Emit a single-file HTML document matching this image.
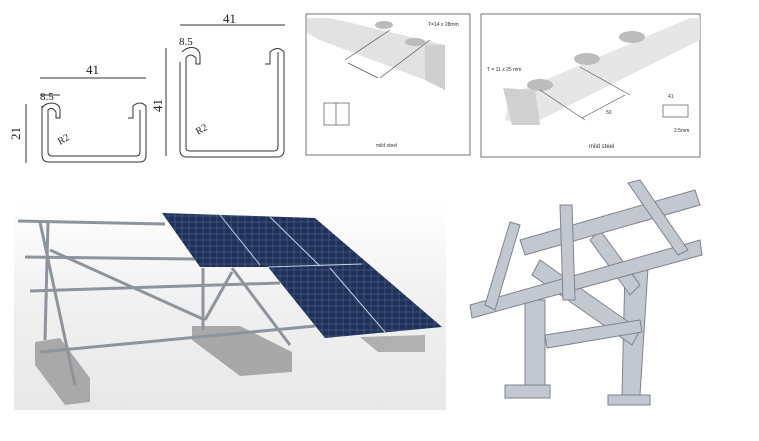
<!DOCTYPE html>
<html><head><meta charset="utf-8"><style>
body{margin:0;background:#fff;width:759px;height:436px;overflow:hidden;font-family:"Liberation Sans",sans-serif}
</style></head><body>
<svg width="759" height="436" viewBox="0 0 759 436" xmlns="http://www.w3.org/2000/svg">
<defs>
<linearGradient id="g1" x1="0" y1="0" x2="0" y2="1"><stop offset="0" stop-color="#fff"/><stop offset=".5" stop-color="#f0f0f0"/><stop offset="1" stop-color="#e8e8e8"/></linearGradient>
<pattern id="grid" width="7" height="6" patternUnits="userSpaceOnUse"><rect width="7" height="6" fill="none" stroke="#5a6d98" stroke-width="0.5"/></pattern>
</defs>
<!-- drawing 1 -->
<g fill="none" stroke="#333" stroke-width="1">
<path d="M42,106 L42,155 Q42,162 49,162 L140,162 Q146,162 146,155 L146,106 Q140,100 133,106 L133,118 L128,118"/>
<path d="M42,108 Q45,103 52,103 Q60,104 60,110 L60,118 L56,118 L56,112 Q52,106 48,110 L48,152 Q48,156 52,156 L136,156 Q140,156 140,152 L140,110"/>
<line x1="40" y1="78" x2="146" y2="78"/><line x1="40" y1="95" x2="60" y2="95"/>
<line x1="26" y1="104" x2="26" y2="163"/>
<path d="M180,62 L180,150 Q180,157 187,157 L277,157 Q284,157 284,150 L284,52 Q278,45 270,52 L270,64 L265,64"/>
<path d="M182,52 Q188,46 195,48 Q200,50 200,56 L200,64 L196,64 L196,58 Q190,52 186,58 L186,148 Q186,151 190,151 L274,151 Q278,151 278,146 L278,52"/>
<line x1="180" y1="25" x2="285" y2="25"/><line x1="166" y1="48" x2="166" y2="156"/>
</g>
<g font-family="Liberation Serif,serif" font-size="13" fill="#222">
<text x="86" y="74">41</text><text x="40" y="100" font-size="11">8.5</text>
<text x="20" y="140" transform="rotate(-90 20 140)">21</text>
<text x="223" y="23">41</text><text x="179" y="45" font-size="11">8.5</text>
<text x="162" y="112" transform="rotate(-90 162 112)">41</text>
<text x="60" y="145" font-size="10" transform="rotate(-30 60 145)">R2</text>
<text x="198" y="135" font-size="10" transform="rotate(-30 198 135)">R2</text>
</g>
<!-- box 1 -->
<rect x="306" y="14" width="164" height="141" fill="#fff" stroke="#777"/>
<path d="M307,18 L330,18 L445,45 L445,90 L425,80 L320,40 L307,33Z" fill="#e2e2e2"/>
<path d="M425,45 L445,45 L445,90 L425,80Z" fill="#cfcfcf"/>
<ellipse cx="384" cy="25" rx="9" ry="4" fill="#bbb"/><ellipse cx="415" cy="42" rx="10" ry="4" fill="#bbb"/>
<g stroke="#555" stroke-width=".7" fill="none"><line x1="345" y1="60" x2="390" y2="30"/><line x1="380" y1="78" x2="430" y2="40"/><line x1="348" y1="63" x2="378" y2="78"/>
<rect x="324" y="103" width="25" height="22"/><line x1="336" y1="103" x2="336" y2="125"/></g>
<text x="428" y="26" font-size="5" fill="#333">T=14 x 28mm</text>
<text x="376" y="147" font-size="5" fill="#333">mild steel</text>
<!-- box 2 -->
<rect x="481" y="14" width="219" height="143" fill="#fff" stroke="#777"/>
<path d="M510,95 L690,18 L700,18 L700,40 L530,125 L505,120Z" fill="#e6e6e6"/>
<path d="M503,88 L535,90 L540,125 L512,125Z" fill="#d0d0d0"/>
<ellipse cx="540" cy="85" rx="13" ry="6" fill="#bcbcbc"/><ellipse cx="587" cy="59" rx="13" ry="6" fill="#bcbcbc"/><ellipse cx="632" cy="37" rx="13" ry="6" fill="#bcbcbc"/>
<g stroke="#555" stroke-width=".7" fill="none"><line x1="580" y1="67" x2="630" y2="95"/><line x1="540" y1="90" x2="585" y2="120"/><line x1="582" y1="118" x2="625" y2="95"/>
<rect x="663" y="105" width="25" height="12"/></g>
<text x="487" y="71" font-size="5" fill="#333">T = 11 x 25 mm</text>
<text x="606" y="114" font-size="5" fill="#333">50</text>
<text x="668" y="98" font-size="5" fill="#333">41</text><text x="674" y="132" font-size="5" fill="#333">2.5mm</text>
<text x="589" y="148" font-size="6" fill="#333">mild steel</text>
<!-- solar rack scene -->
<rect x="14" y="200" width="432" height="210" fill="url(#g1)"/>
<polygon points="35,342 60,338 90,378 90,402 65,405 35,365" fill="#a9a9a9"/>
<polygon points="192,326 240,326 292,352 292,372 240,376 192,340" fill="#a8a8a8"/>
<polygon points="360,337 425,335 425,352 378,352" fill="#b0b0b0"/>
<g stroke="#8e949c" stroke-width="3" fill="none">
<line x1="18" y1="221" x2="165" y2="224"/><line x1="25" y1="257" x2="195" y2="259"/><line x1="30" y1="291" x2="280" y2="283"/>
<line x1="40" y1="222" x2="75" y2="385"/><line x1="48" y1="222" x2="45" y2="340"/><line x1="50" y1="250" x2="205" y2="320"/>
<line x1="40" y1="352" x2="315" y2="326"/>
<line x1="203" y1="268" x2="203" y2="330"/><line x1="232" y1="268" x2="290" y2="345"/><line x1="205" y1="320" x2="232" y2="272"/>
</g>
<polygon points="162,213 315,218 442,327 325,338 268,267 200,267" fill="#1f3059"/>
<polygon points="162,213 315,218 442,327 325,338 268,267 200,267" fill="url(#grid)"/>
<g stroke="#c8d0e0" stroke-width="1"><line x1="220" y1="215" x2="260" y2="265"/><line x1="270" y1="217" x2="320" y2="266"/><line x1="330" y1="268" x2="385" y2="332"/><line x1="268" y1="267" x2="362" y2="264"/></g>
<!-- metal rack right -->
<g fill="#c3c8d0" stroke="#7d848e" stroke-width="1">
<polygon points="525,300 545,300 545,395 525,395"/>
<polygon points="625,270 648,268 640,395 622,395"/>
<polygon points="505,385 550,385 550,398 505,398"/>
<polygon points="608,395 650,395 650,405 608,405"/>
<polygon points="540,260 640,330 632,345 532,275"/>
<polygon points="545,335 640,320 642,332 547,348"/>
<polygon points="600,230 640,285 630,295 590,240"/>
<polygon points="520,240 695,190 700,205 525,255"/>
<polygon points="470,305 700,240 702,255 472,318"/>
<polygon points="510,222 520,225 495,310 485,305"/>
<polygon points="560,205 572,205 575,300 563,300"/>
<polygon points="628,183 640,180 688,250 678,255"/>
</g>
</svg>
</body></html>
